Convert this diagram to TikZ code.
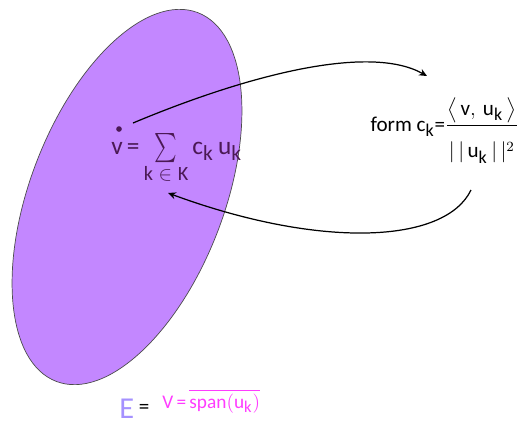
\RequirePackage{fix-cm}
\documentclass[tikz,border=0pt]{standalone}
\usepackage{fontspec}
\setmainfont{Carlito}
\setsansfont{Carlito}
\usepackage{amsmath}
\usetikzlibrary{arrows.meta}
\definecolor{ellfill}{RGB}{195,135,255}
\definecolor{vpurple}{RGB}{75,25,85}
\definecolor{elight}{RGB}{165,145,255}
\definecolor{spanpink}{RGB}{255,60,255}
\newcommand{\sk}{_{\scalebox{0.85}{k}}}
\newcommand{\eqs}{\text{=}}
\newcommand{\bigsum}{\mathop{\vcenter{\hbox{\scalebox{0.85}[1.15]{$\sum$}}}}}
\begin{document}
\begin{tikzpicture}[x=0.02cm,y=0.02cm,
  link/.style={-{Stealth[length=4.5pt,width=4pt]},line width=0.7pt}]
\useasboundingbox (0,0) rectangle (521,424);
\path
(127,227) coordinate (O)
(119,295) coordinate (v)
(133,301) coordinate (vout)
(427,348) coordinate (cin)
(471,234) coordinate (cout)
(168,231) coordinate (vin)
;
\fill[ellfill,draw=black!70,thin] (O) ellipse[x radius=197.5,y radius=97,rotate=69];
\fill[vpurple] (v) circle(1.6pt);
\node[text=vpurple,font=\Large,anchor=base west,inner sep=0pt] (vsum) at (111,270)
  {$\mathsf{v}\,\eqs\bigsum\limits_{\scalebox{0.8}{$\mathsf{k}\in\mathsf{K}$}}\mathsf{c}\sk\,\mathsf{u}\sk$};
\node[font=\large,anchor=base east,inner sep=0pt] (coef) at (519,293)
  {form $\mathsf{c}\sk\eqs\dfrac{\big\langle\,\mathsf{v},\,\mathsf{u}\sk\,\big\rangle}{\rule{0pt}{2.9ex}|\,|\,\mathsf{u}\sk\,|\,|^{2}}$};
\draw[link] (vout) .. controls (250,350) and (370,380) .. (cin);
\draw[link] (cout) .. controls (445,180) and (320,175) .. (vin);
\node[text=elight,font=\LARGE,anchor=base west,inner sep=0pt] (E) at (119,6) {E};
\node[font=\large,inner sep=0pt] (eq) at (144,15) {=};
\node[text=spanpink,font=\fontsize{11}{13}\selectfont,anchor=base west,inner sep=0pt] (span) at (162,16)
  {$\mathsf{V}\,\eqs\,\overline{\mathsf{span}(\mathsf{u}\sk)}$};
\end{tikzpicture}
\end{document}
